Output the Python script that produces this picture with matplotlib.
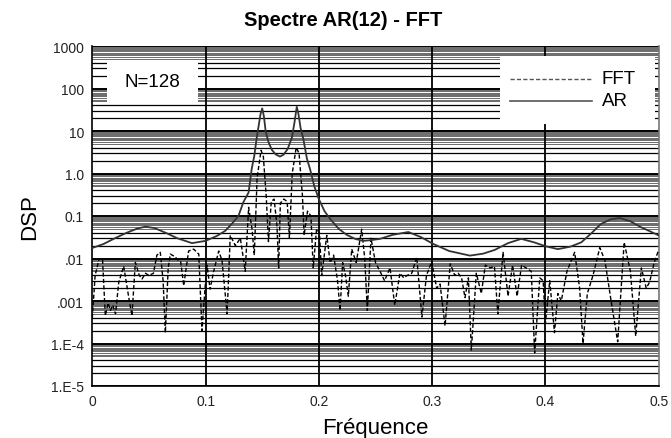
import matplotlib
matplotlib.use("Agg")
import matplotlib.pyplot as plt
from matplotlib.patches import Rectangle
import numpy as np

plt.rcParams['font.family'] = ['Liberation Sans', 'DejaVu Sans']

# ---------------- data ----------------
title = "Spectre AR(12) - FFT"
xlabel = "Fréquence"
ylabel = "DSP"
note = "N=128"

ar_freq = [0.000, 0.010, 0.020, 0.030, 0.040, 0.047, 0.055, 0.065, 0.075, 0.088,
           0.100, 0.110, 0.1175, 0.1245, 0.129, 0.1333, 0.138, 0.1407, 0.143, 0.145,
           0.147, 0.1485, 0.150, 0.1515, 0.153, 0.1555, 0.1585, 0.162, 0.1657, 0.169,
           0.1725, 0.1762, 0.1785, 0.1805, 0.182, 0.1838, 0.1863, 0.1895, 0.1922, 0.196,
           0.200, 0.205, 0.210, 0.2175, 0.2246, 0.232, 0.239, 0.246, 0.254, 0.265,
           0.279, 0.290, 0.301, 0.315, 0.3334, 0.345, 0.3552, 0.367, 0.3787, 0.390,
           0.400, 0.411, 0.422, 0.4317, 0.440, 0.449, 0.4575, 0.4655, 0.475, 0.4846,
           0.492, 0.500]
ar_dsp = [0.0177, 0.022, 0.030, 0.040, 0.051, 0.056, 0.052, 0.040, 0.030, 0.023,
          0.026, 0.034, 0.045, 0.072, 0.10, 0.21, 0.36, 1.28, 2.6, 6.5,
          14.0, 25.0, 34.0, 22.0, 10.0, 5.5, 3.6, 2.8, 2.5, 2.8,
          3.8, 7.0, 16.0, 37.0, 25.0, 12.0, 6.5, 2.2, 1.28, 0.5,
          0.25, 0.13, 0.085, 0.05, 0.036, 0.029, 0.026, 0.027, 0.029, 0.036,
          0.042, 0.032, 0.022, 0.015, 0.0117, 0.013, 0.0159, 0.023, 0.029, 0.024,
          0.0195, 0.0166, 0.019, 0.024, 0.038, 0.065, 0.083, 0.090, 0.075, 0.054,
          0.044, 0.035]

fft_freq = [0.000, 0.0025, 0.006, 0.009, 0.0115, 0.014, 0.016, 0.018, 0.0205, 0.0233,
            0.0277, 0.032, 0.035, 0.038, 0.0415, 0.0439, 0.047, 0.050, 0.054, 0.057,
            0.060, 0.0625, 0.0645, 0.067, 0.0689, 0.073, 0.076, 0.078, 0.0807, 0.085,
            0.0895, 0.094, 0.0968, 0.0995, 0.1013, 0.104, 0.107, 0.1116, 0.1145, 0.119,
            0.1218, 0.1263, 0.1307, 0.135, 0.138, 0.141, 0.143, 0.1455, 0.149, 0.151,
            0.1535, 0.1555, 0.158, 0.1605, 0.163, 0.1645, 0.166, 0.169, 0.172, 0.174,
            0.1765, 0.180, 0.1825, 0.1855, 0.187, 0.190, 0.193, 0.195, 0.198, 0.2005,
            0.2025, 0.207, 0.210, 0.213, 0.2165, 0.2187, 0.221, 0.2235, 0.226, 0.229,
            0.233, 0.2378, 0.2405, 0.2428, 0.246, 0.250, 0.254, 0.258, 0.2628, 0.267,
            0.2716, 0.275, 0.278, 0.282, 0.2864, 0.291, 0.295, 0.2996, 0.304, 0.307,
            0.3114, 0.316, 0.320, 0.323, 0.326, 0.329, 0.332, 0.3346, 0.339, 0.3434,
            0.347, 0.351, 0.355, 0.358, 0.3626, 0.367, 0.371, 0.375, 0.379, 0.383,
            0.3875, 0.3905, 0.395, 0.398, 0.400, 0.4038, 0.408, 0.411, 0.414, 0.419,
            0.4258, 0.4302, 0.4332, 0.437, 0.442, 0.448, 0.4525, 0.458, 0.4638, 0.4695,
            0.475, 0.4797, 0.4847, 0.489, 0.492, 0.496, 0.500]
fft_dsp = [0.0004, 0.004, 0.0098, 0.0098, 0.00045, 0.0009, 0.0006, 0.0008, 0.0005, 0.0027,
           0.0066, 0.0013, 0.00045, 0.0081, 0.004, 0.0033, 0.0045, 0.004, 0.0045, 0.012,
           0.014, 0.003, 0.00018, 0.006, 0.0127, 0.011, 0.009, 0.0085, 0.0023, 0.015,
           0.0166, 0.0127, 0.0002, 0.002, 0.0069, 0.0019, 0.0048, 0.015, 0.009, 0.0005,
           0.035, 0.02, 0.03, 0.005, 0.16, 0.05, 0.012, 0.8, 3.5, 2.5,
           0.3, 0.025, 0.22, 0.25, 0.06, 0.006, 0.2, 0.25, 0.22, 0.03,
           1.0, 4.1, 3.0, 0.3, 0.035, 0.13, 0.1, 0.006, 0.05, 0.04,
           0.004, 0.035, 0.008, 0.012, 0.003, 0.0006, 0.008, 0.004, 0.0013, 0.0166,
           0.008, 0.049, 0.01, 0.0006, 0.03, 0.008, 0.005, 0.003, 0.006, 0.0008,
           0.0045, 0.0035, 0.004, 0.0045, 0.0107, 0.00042, 0.004, 0.0085, 0.002, 0.0025,
           0.00026, 0.0075, 0.004, 0.0045, 0.0035, 0.0012, 0.0035, 0.00007, 0.0045, 0.0015,
           0.007, 0.006, 0.0065, 0.0005, 0.014, 0.0013, 0.007, 0.0013, 0.007, 0.006,
           0.005, 0.00006, 0.0035, 0.003, 0.0003, 0.003, 0.00018, 0.0015, 0.001, 0.005,
           0.014, 0.002, 0.0001, 0.0015, 0.004, 0.018, 0.009, 0.001, 0.00011, 0.024,
           0.005, 0.00015, 0.006, 0.002, 0.0028, 0.008, 0.016]

xticks = [0.0, 0.1, 0.2, 0.3, 0.4, 0.5]
xtick_labels = ["0", "0.1", "0.2", "0.3", "0.4", "0.5"]
yticks = [1e-5, 1e-4, 1e-3, 1e-2, 1e-1, 1e0, 1e1, 1e2, 1e3]
ytick_labels = ["1.E-5", "1.E-4", ".001", ".01", "0.1", "1.0", "10", "100", "1000"]
legend_labels = ["FFT", "AR"]

# ---------------- figure ----------------
W, H = 671, 439
fig = plt.figure(figsize=(W / 100, H / 100), dpi=100)
ax = fig.add_axes([92.3 / W, 1 - 387 / H, 566.4 / W, 340 / H])
ax.set_yscale('log')
ax.set_xlim(0, 0.5)
ax.set_ylim(1e-5, 1e3)

# grid
for k in range(-5, 3):
    base = 10.0 ** k
    for m in [2, 3, 4]:
        ax.axhline(m * base, color='black', lw=0.9, zorder=1)
    for m in np.arange(5, 10, 0.5):
        ax.axhline(m * base, color='#333333', lw=0.5, zorder=1)
for k in range(-5, 4):
    ax.axhline(10.0 ** k, color='black', lw=1.4, zorder=1)
for xv in xticks[1:-1]:
    ax.axvline(xv, color='black', lw=1.3, zorder=1)

# white boxes
ax.add_patch(Rectangle((0.0254, 0.834), 0.162, 0.123, transform=ax.transAxes,
                       facecolor='white', edgecolor='none', zorder=2))
ax.add_patch(Rectangle((0.72, 0.77), 0.274, 0.2, transform=ax.transAxes,
                       facecolor='white', edgecolor='none', zorder=2))

# curves
ax.plot(fft_freq, fft_dsp, color='black', lw=1.0, ls=(0, (3, 1.6)), zorder=3)
ax.plot(ar_freq, ar_dsp, color='#333333', lw=1.3, zorder=4)

# annotation box text
ax.text(0.106, 0.895, note, transform=ax.transAxes, ha='center', va='center',
        fontsize=13.5, zorder=5)

# legend (manual)
ax.plot([0.7375, 0.882], [0.903, 0.903], transform=ax.transAxes, color='#555555',
        lw=1.0, ls=(0, (3, 1.6)), zorder=5)
ax.plot([0.7375, 0.882], [0.839, 0.839], transform=ax.transAxes, color='#555555',
        lw=1.2, zorder=5)
ax.text(0.899, 0.903, legend_labels[0], transform=ax.transAxes, ha='left', va='center',
        fontsize=13.5, zorder=5)
ax.text(0.899, 0.839, legend_labels[1], transform=ax.transAxes, ha='left', va='center',
        fontsize=13.5, zorder=5)

# ticks
ax.set_xticks(xticks)
ax.set_xticklabels(xtick_labels, fontsize=10, color='#222222')
ax.set_yticks(yticks)
ax.set_yticklabels(ytick_labels, fontsize=10, color='#222222')
ax.yaxis.set_minor_locator(matplotlib.ticker.NullLocator())
ax.tick_params(axis='both', length=0, pad=6)

for s in ['left', 'bottom']:
    ax.spines[s].set_color('black')
    ax.spines[s].set_linewidth(1.2)
ax.spines['right'].set_color('#777777')
ax.spines['right'].set_linewidth(1.2)
ax.spines['top'].set_visible(False)

ax.set_xlabel(xlabel, fontsize=16, labelpad=6)
ax.set_ylabel(ylabel, fontsize=16, labelpad=8)
fig.text(343 / W, 1 - 20 / H, title, ha='center', va='center', fontsize=14.5,
         fontweight='bold')

fig.savefig("out.png", dpi=100)
